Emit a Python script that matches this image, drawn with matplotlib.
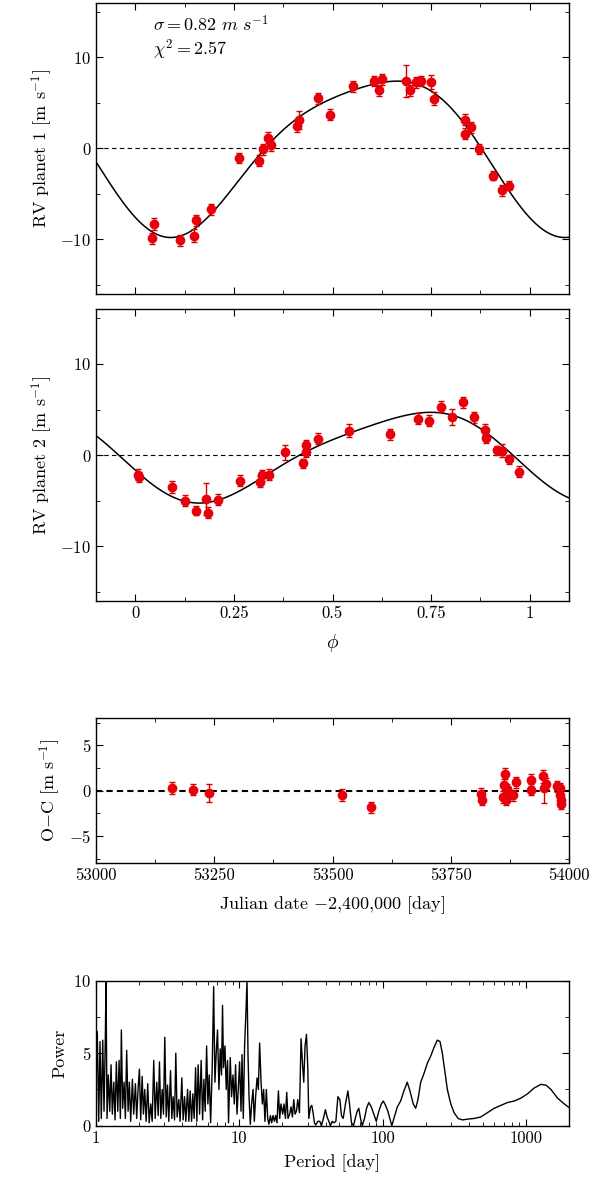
import numpy as np
import matplotlib
matplotlib.use("Agg")
import matplotlib.pyplot as plt
from matplotlib.ticker import MultipleLocator, FixedLocator, NullFormatter

plt.rcParams['font.family'] = ['cmr10', 'DejaVu Serif']
plt.rcParams['mathtext.fontset'] = 'cm'
plt.rcParams['axes.formatter.use_mathtext'] = True
plt.rcParams['font.size'] = 12

# ---- Panel 1: planet 1 ----
phi1 = [0.041, 0.047, 0.114, 0.149, 0.154, 0.193, 0.264, 0.314, 0.323, 0.337, 0.343, 0.410, 0.415,
        0.464, 0.493, 0.552, 0.606, 0.619, 0.625, 0.686, 0.697, 0.713, 0.724, 0.750, 0.758, 0.837,
        0.837, 0.852, 0.871, 0.908, 0.931, 0.947]
rv1 = [-9.9, -8.3, -10.1, -9.6, -7.9, -6.7, -1.06, -1.36, -0.1, 1.17, 0.33, 2.45, 3.08,
       5.5, 3.7, 6.8, 7.4, 6.4, 7.6, 7.4, 6.4, 7.25, 7.4, 7.3, 5.46, 3.15,
       1.6, 2.3, -0.07, -3.0, -4.6, -4.1]
err1 = [0.6, 0.7, 0.6, 0.7, 0.6, 0.6, 0.5, 0.6, 0.6, 0.6, 0.6, 0.6, 1.0,
        0.6, 0.6, 0.6, 0.6, 0.6, 0.6, 1.8, 0.6, 0.6, 0.6, 0.8, 0.7, 0.6,
        0.6, 0.6, 0.6, 0.5, 0.6, 0.5]
# harmonic coefficients of model curve (a0, a1, b1, a2, b2)
model1 = [0.0, -6.55, -5.25, -1.05, -1.11]

# ---- Panel 2: planet 2 ----
phi2 = [0.007, 0.008, 0.092, 0.125, 0.153, 0.178, 0.183, 0.210, 0.266, 0.317, 0.321, 0.340, 0.379,
        0.426, 0.432, 0.434, 0.462, 0.541, 0.646, 0.717, 0.744, 0.774, 0.803, 0.831, 0.858, 0.886,
        0.890, 0.918, 0.930, 0.947, 0.974]
rv2 = [-2.15, -2.4, -3.5, -5.0, -6.1, -4.8, -6.3, -4.9, -2.8, -2.9, -2.2, -2.15, 0.3,
       -0.9, 1.1, 0.36, 1.8, 2.7, 2.3, 4.0, 3.8, 5.3, 4.2, 5.8, 4.15, 2.8,
       1.9, 0.55, 0.47, -0.47, -1.8]
err2 = [0.6, 0.6, 0.7, 0.6, 0.5, 1.75, 0.6, 0.6, 0.6, 0.6, 0.6, 0.6, 0.8,
        0.5, 0.6, 0.6, 0.6, 0.7, 0.6, 0.6, 0.6, 0.6, 0.9, 0.6, 0.6, 0.6,
        0.6, 0.5, 0.7, 0.5, 0.6]
model2 = [0.12, -1.68, -4.47, -0.11, -0.83]

# ---- Panel 3: O-C ----
jd = [53160, 53206, 53239, 53521, 53581, 53814, 53817, 53861, 53865, 53863, 53868, 53867, 53872,
      53882, 53887, 53919, 53919, 53944, 53947, 53951, 53975, 53981, 53982, 53983, 53983]
oc = [0.3, 0.1, -0.2, -0.45, -1.8, -0.33, -1.0, -0.7, 1.9, 0.67, 0.2, -1.0, -0.15,
      -0.5, 0.93, 1.2, 0.1, 1.6, 0.3, 0.8, 0.5, 0.3, -0.5, -1.0, -1.45]
oc_err = [0.7, 0.6, 1.0, 0.7, 0.6, 0.6, 0.6, 0.7, 0.6, 0.6, 0.6, 0.6, 0.6,
          0.6, 0.6, 0.7, 0.6, 0.7, 1.6, 0.6, 0.6, 0.6, 0.6, 0.6, 0.6]

# ---- Panel 4: periodogram (log10 period, power) ----
periodogram = [
 (0, 2.5), (.009, 6.5), (.019, 0.3), (.028, 5.8), (.037, 0.5), (.047, 5.9), (.056, 1.0), (.065, 6.0),
 (.070, 10), (.077, 0.5), (.086, 3.5), (.096, 1.0), (.105, 4.2), (.114, 0.8), (.124, 3.0), (.133, 0.4),
 (.142, 4.4), (.152, 1.0), (.161, 4.5), (.170, 0.5), (.177, 6.6), (.186, 1.2), (.196, 3.0), (.205, 0.5),
 (.214, 5.2), (.224, 1.0), (.233, 3.0), (.242, 0.3), (.254, 3.2), (.263, 0.8), (.275, 2.9), (.284, 0.5),
 (.294, 2.6), (.303, 3.9), (.312, 0.4), (.322, 3.4), (.331, 0.8), (.340, 2.5), (.350, 0.3), (.361, 2.9),
 (.371, 0.2), (.382, 1.5), (.392, 0.3), (.403, 4.5), (.413, 0.5), (.424, 3.0), (.434, 0.7), (.443, 4.4),
 (.452, 0.5), (.462, 2.5), (.471, 0.8), (.480, 6.1), (.490, 0.6), (.499, 2.8), (.508, 0.3), (.520, 3.8),
 (.529, 0.5), (.538, 2.0), (.548, 0.4), (.557, 5.0), (.566, 0.6), (.578, 1.8), (.587, 0.3), (.599, 3.3),
 (.608, 0.4), (.618, 2.0), (.627, 0.3), (.639, 2.5), (.648, 0.3), (.657, 2.4), (.667, 0.3), (.676, 2.2),
 (.685, 0.5), (.695, 4.0), (.704, 0.3), (.713, 4.2), (.723, 0.8), (.734, 4.5), (.744, 0.4), (.753, 3.2),
 (.762, 1.0), (.772, 5.5), (.781, 1.5), (.790, 3.5), (.800, 0.2), (.811, 4.0), (.821, 9.6), (.830, 3.0),
 (.839, 5.0), (.848, 6.6), (.858, 2.5), (.867, 5.3), (.876, 3.5), (.883, 8.3), (.890, 4.0), (.900, 5.5),
 (.909, 2.5), (.918, 4.5), (.925, 0.2), (.937, 4.7), (.946, 2.0), (.956, 3.5), (.965, 1.5), (.974, 4.2),
 (.984, 0.8), (.993, 2.5), (1.002, 4.4), (1.012, 1.0), (1.019, 4.9), (1.028, 0.5), (1.037, 5.5), (1.047, 8.0),
 (1.054, 10), (1.061, 4.8), (1.068, 2.0), (1.077, 0.1), (1.086, 1.5), (1.096, 2.5), (1.105, 0.3), (1.114, 2.0),
 (1.124, 3.3), (1.133, 2.5), (1.142, 5.7), (1.152, 3.0), (1.161, 1.5), (1.170, 2.5), (1.179, 0.3), (1.189, 2.5),
 (1.198, 0.5), (1.207, 0.1), (1.217, 0.7), (1.226, 0.2), (1.235, 0.7), (1.245, 0.3), (1.254, 0.7), (1.263, 0.2),
 (1.273, 2.4), (1.282, 0.5), (1.291, 1.5), (1.303, 0.8), (1.312, 1.5), (1.322, 0.5), (1.331, 2.3), (1.340, 0.5),
 (1.352, 0.8), (1.361, 1.3), (1.371, 0.6), (1.380, 1.8), (1.389, 0.8), (1.399, 1.0), (1.408, 1.8), (1.420, 0.9),
 (1.431, 6.0), (1.443, 4.0), (1.450, 3.0), (1.459, 5.5), (1.469, 6.3), (1.478, 4.0), (1.485, 0.5), (1.497, 1.3),
 (1.506, 1.4), (1.515, 0.9), (1.524, 0.2), (1.534, 0.05), (1.548, 0.3), (1.562, 0.3), (1.573, 0.0), (1.587, 0.5),
 (1.601, 1.1), (1.613, 0.6), (1.625, 0.3), (1.636, 0.0), (1.648, 0.3), (1.660, 0.2), (1.674, 0.3), (1.688, 2.0),
 (1.702, 1.8), (1.713, 0.7), (1.725, 0.5), (1.741, 1.5), (1.758, 2.4), (1.769, 1.5), (1.783, 0.2), (1.797, 0.0),
 (1.809, 0.5), (1.823, 1.0), (1.834, 1.2), (1.846, 0.5), (1.858, 0.0), (1.874, 0.5), (1.888, 1.2), (1.904, 1.6),
 (1.921, 1.3), (1.939, 0.8), (1.956, 0.3), (1.974, 1.0), (1.991, 1.5), (2.005, 1.7), (2.021, 1.4), (2.037, 1.0),
 (2.056, 0.3), (2.065, 0.0), (2.079, 0.5), (2.103, 1.3), (2.126, 1.7), (2.149, 2.4), (2.172, 3.0), (2.191, 2.4),
 (2.214, 1.5), (2.231, 1.2), (2.247, 1.8), (2.266, 3.0), (2.289, 3.6), (2.312, 4.3), (2.336, 4.8), (2.359, 5.4),
 (2.382, 5.9), (2.401, 5.8), (2.417, 5.0), (2.434, 3.8), (2.452, 2.5), (2.476, 1.5), (2.499, 0.9), (2.527, 0.5),
 (2.557, 0.4), (2.592, 0.45), (2.639, 0.5), (2.685, 0.6), (2.732, 0.9), (2.779, 1.2), (2.825, 1.4), (2.872, 1.6),
 (2.918, 1.7), (2.965, 1.9), (3.012, 2.2), (3.058, 2.6), (3.105, 2.85), (3.140, 2.8), (3.175, 2.5), (3.221, 1.9),
 (3.268, 1.5), (3.308, 1.2)]
log_period = [p[0] for p in periodogram]
power = [p[1] for p in periodogram]

W, H = 597, 1199
fig = plt.figure(figsize=(W / 100, H / 100), dpi=100)
L, R = 96 / W, 569 / W

def box(top, bottom):
    return [L, 1 - bottom / H, R - L, (bottom - top) / H]

def style(ax):
    ax.tick_params(which='both', direction='in', top=True, right=True, labelsize=12)
    ax.tick_params(which='major', length=5)
    ax.tick_params(which='minor', length=3)
    for s in ax.spines.values():
        s.set_linewidth(1.0)

def harm(c, x):
    t = 2 * np.pi * x
    return c[0] + c[1] * np.cos(t) + c[2] * np.sin(t) + c[3] * np.cos(2 * t) + c[4] * np.sin(2 * t)

ekw = dict(fmt='o', color='#e8000b', ms=6, ecolor='#d40000', elinewidth=1, capsize=2.5, capthick=1, zorder=3)
xx = np.linspace(-0.1, 1.1, 600)

for i, (phi, rv, er, mod, lab, top, bot) in enumerate([
        (phi1, rv1, err1, model1, 'RV planet 1 [m s$^{-1}$]', 2.7, 294),
        (phi2, rv2, err2, model2, 'RV planet 2 [m s$^{-1}$]', 309.3, 601)]):
    ax = fig.add_axes(box(top, bot))
    ax.plot(xx, harm(mod, xx), color='black', lw=1.1, zorder=2)
    ax.axhline(0, color='black', lw=0.8, ls=(0, (4, 3)), zorder=1)
    ax.errorbar(phi, rv, yerr=er, **ekw)
    ax.set_xlim(-0.1, 1.1)
    ax.set_ylim(-16, 16)
    ax.yaxis.set_major_locator(MultipleLocator(10))
    ax.yaxis.set_minor_locator(MultipleLocator(5))
    ax.xaxis.set_major_locator(MultipleLocator(0.25))
    ax.xaxis.set_minor_locator(MultipleLocator(0.125))
    ax.set_ylabel(lab, fontsize=13)
    style(ax)
    if i == 0:
        ax.set_xticklabels([])
        ax.text(0.12, 0.96, r'$\sigma = 0.82\ m\ s^{-1}$', transform=ax.transAxes, fontsize=13, va='top')
        ax.text(0.12, 0.88, r'$\chi^2 = 2.57$', transform=ax.transAxes, fontsize=13, va='top')
    else:
        ax.set_xticks([0, 0.25, 0.5, 0.75, 1])
        ax.set_xticklabels(['0', '0.25', '0.5', '0.75', '1'])
        ax.set_xlabel(r'$\phi$', fontsize=14, labelpad=8)

ax3 = fig.add_axes(box(718.3, 863.3))
ax3.axhline(0, color='black', lw=1.5, ls=(0, (3, 2)), zorder=1)
ax3.errorbar(jd, oc, yerr=oc_err, **ekw)
ax3.set_xlim(53000, 54000)
ax3.set_ylim(-8, 8)
ax3.xaxis.set_major_locator(MultipleLocator(250))
ax3.xaxis.set_minor_locator(MultipleLocator(125))
ax3.yaxis.set_major_locator(MultipleLocator(5))
ax3.yaxis.set_minor_locator(MultipleLocator(2.5))
ax3.xaxis.set_major_formatter(matplotlib.ticker.FuncFormatter(lambda v, p: '%d' % v))
ax3.set_ylabel('O$-$C [m s$^{-1}$]', fontsize=13)
ax3.set_xlabel('Julian date $-$2,400,000 [day]', fontsize=13, labelpad=8)
style(ax3)

ax4 = fig.add_axes(box(980.7, 1125.7))
ax4.plot(10 ** np.array(log_period), power, color='black', lw=1.0)
ax4.set_xscale('log')
ax4.set_xlim(1, 2000)
ax4.set_ylim(0, 10)
ax4.yaxis.set_major_locator(MultipleLocator(5))
ax4.yaxis.set_minor_locator(MultipleLocator(2.5))
ax4.set_xticks([1, 10, 100, 1000])
ax4.set_xticklabels(['1', '10', '100', '1000'])
ax4.xaxis.set_minor_formatter(NullFormatter())
ax4.set_ylabel('Power', fontsize=13)
ax4.set_xlabel('Period [day]', fontsize=13, labelpad=6)
style(ax4)

fig.savefig('out.png', dpi=100)
